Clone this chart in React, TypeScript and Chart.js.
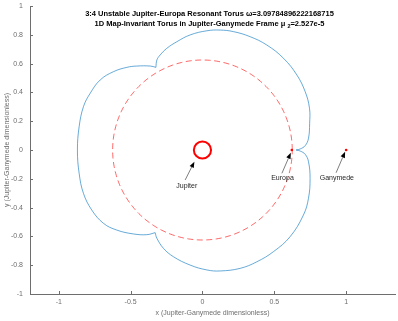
import React, { useEffect, useRef } from "react";
import { Chart, registerables } from "chart.js";

Chart.register(...registerables);

// ---- axes ----
const X_MIN = -1.2;
const X_MAX = 1.34;
const Y_MIN = -1;
const Y_MAX = 1;
const X_TICKS = [-1, -0.5, 0, 0.5, 1];
const Y_TICKS = [-1, -0.8, -0.6, -0.4, -0.2, 0, 0.2, 0.4, 0.6, 0.8, 1];

// ---- titles ----
const TITLE_LINE_1 = "3:4 Unstable Jupiter-Europa Resonant Torus \u03c9=3.09784896222168715";
const TITLE_LINE_2_MAIN = "1D Map-Invariant Torus in Jupiter-Ganymede Frame \u03bc";
const TITLE_LINE_2_SUB = "2";
const TITLE_LINE_2_TAIL = "=2.527e-5";
const X_LABEL = "x (Jupiter-Ganymede dimensionless)";
const Y_LABEL = "y (Jupiter-Ganymede dimensionless)";

// ---- torus curve (three lobes) ----
const TOP_LOBE_X = [0.652, 0.68, 0.715, 0.738, 0.746, 0.745, 0.715, 0.657, 0.564, 0.448, 0.332, 0.216, 0.123, 0.031, -0.086, -0.178, -0.248, -0.294, -0.317, -0.324];
const TOP_LOBE_Y = [0, 0.007, 0.03, 0.081, 0.185, 0.29, 0.405, 0.521, 0.637, 0.729, 0.787, 0.822, 0.833, 0.828, 0.799, 0.752, 0.706, 0.66, 0.625, 0.574];

const LEFT_LOBE_X = [-0.324, -0.363, -0.457, -0.526, -0.619, -0.712, -0.781, -0.828, -0.858, -0.87, -0.858, -0.828, -0.77, -0.689, -0.596, -0.48, -0.387, -0.329];
const LEFT_LOBE_Y = [0.574, 0.583, 0.583, 0.574, 0.544, 0.486, 0.394, 0.301, 0.162, 0, -0.162, -0.301, -0.417, -0.509, -0.556, -0.583, -0.588, -0.574];

const BOTTOM_LOBE_X = [-0.329, -0.317, -0.271, -0.202, -0.086, 0.031, 0.123, 0.262, 0.379, 0.494, 0.61, 0.703, 0.738, 0.749, 0.738, 0.715, 0.68, 0.652];
const BOTTOM_LOBE_Y = [-0.574, -0.613, -0.683, -0.741, -0.799, -0.833, -0.84, -0.822, -0.776, -0.706, -0.602, -0.451, -0.335, -0.197, -0.081, -0.03, -0.007, 0];

// ---- bodies ----
const EUROPA_ORBIT_RADIUS = 0.625;
const JUPITER_POS = [0, 0];
const EUROPA_POS = [0.622, 0];
const GANYMEDE_POS = [1, 0];

// ---- annotations ----
const ANNOT_LABELS = ["Jupiter", "Europa", "Ganymede"];
const ANNOT_TEXT_X = [-0.109, 0.557, 0.935];
const ANNOT_TEXT_Y = [-0.25, -0.197, -0.197];
const ANNOT_TAIL_X = [-0.12, 0.553, 0.93];
const ANNOT_TAIL_Y = [-0.208, -0.162, -0.158];
const ANNOT_HEAD_X = [-0.056, 0.615, 0.993];
const ANNOT_HEAD_Y = [-0.081, -0.019, -0.012];

const FONT = "'Liberation Sans', Arial, Helvetica, sans-serif";
const AXIS_COLOR = "#6e6e6e";
const TEXT_COLOR = "#262626";
const BLUE = "#0072BD";
const RED = "#FF0000";

function zip(xs: number[], ys: number[]) {
  return xs.map((x, i) => ({ x, y: ys[i] }));
}

function orbitPoints(r: number) {
  const pts: { x: number; y: number }[] = [];
  const n = 240;
  for (let i = 0; i <= n; i++) {
    const a = (i / n) * Math.PI * 2;
    pts.push({ x: r * Math.cos(a), y: r * Math.sin(a) });
  }
  return pts;
}

function fmt(v: number) {
  return String(Math.round(v * 10) / 10);
}

const decorPlugin = {
  id: "decor",
  afterDraw(chart: any) {
    const ctx = chart.ctx as CanvasRenderingContext2D;
    const area = chart.chartArea;
    const xs = chart.scales.x;
    const ys = chart.scales.y;
    ctx.save();

    // inward tick marks
    ctx.strokeStyle = AXIS_COLOR;
    ctx.lineWidth = 1;
    ctx.beginPath();
    X_TICKS.forEach((t) => {
      const px = Math.round(xs.getPixelForValue(t)) + 0.5;
      ctx.moveTo(px, area.bottom);
      ctx.lineTo(px, area.bottom - 3);
    });
    Y_TICKS.forEach((t) => {
      const py = Math.round(ys.getPixelForValue(t)) + 0.5;
      ctx.moveTo(area.left, py);
      ctx.lineTo(area.left + 3, py);
    });
    ctx.stroke();

    // tick labels
    ctx.fillStyle = AXIS_COLOR;
    ctx.font = `7px ${FONT}`;
    ctx.textBaseline = "middle";
    ctx.textAlign = "center";
    X_TICKS.forEach((t) => {
      ctx.fillText(fmt(t), xs.getPixelForValue(t), area.bottom + 8.5);
    });
    ctx.textAlign = "right";
    Y_TICKS.forEach((t) => {
      ctx.fillText(fmt(t), area.left - 7, ys.getPixelForValue(t));
    });

    // title
    const cx = (area.left + area.right) / 2 - 3;
    ctx.fillStyle = "#000";
    ctx.textBaseline = "middle";
    ctx.font = `bold 7.5px ${FONT}`;
    ctx.textAlign = "center";
    ctx.fillText(TITLE_LINE_1, cx, area.top + 8);
    const subFont = `bold 5.5px ${FONT}`;
    const wMain = ctx.measureText(TITLE_LINE_2_MAIN + " ").width;
    const wTail = ctx.measureText(TITLE_LINE_2_TAIL).width;
    ctx.font = subFont;
    const wSub = ctx.measureText(TITLE_LINE_2_SUB).width;
    const total = wMain + wSub + wTail;
    const x0 = cx - total / 2;
    const y2 = area.top + 18;
    ctx.textAlign = "left";
    ctx.font = `bold 7.5px ${FONT}`;
    ctx.fillText(TITLE_LINE_2_MAIN + " ", x0, y2);
    ctx.font = subFont;
    ctx.fillText(TITLE_LINE_2_SUB, x0 + wMain, y2 + 2.5);
    ctx.font = `bold 7.5px ${FONT}`;
    ctx.fillText(TITLE_LINE_2_TAIL, x0 + wMain + wSub, y2);

    // axis titles
    ctx.fillStyle = AXIS_COLOR;
    ctx.font = `7px ${FONT}`;
    ctx.textAlign = "center";
    ctx.fillText(X_LABEL, (area.left + area.right) / 2, area.bottom + 19);
    ctx.save();
    ctx.translate(7, (area.top + area.bottom) / 2);
    ctx.rotate(-Math.PI / 2);
    ctx.fillText(Y_LABEL, 0, 0);
    ctx.restore();

    // annotations
    ANNOT_LABELS.forEach((label, i) => {
      const tx = xs.getPixelForValue(ANNOT_TAIL_X[i]);
      const ty = ys.getPixelForValue(ANNOT_TAIL_Y[i]);
      const hx = xs.getPixelForValue(ANNOT_HEAD_X[i]);
      const hy = ys.getPixelForValue(ANNOT_HEAD_Y[i]);
      const ang = Math.atan2(hy - ty, hx - tx);
      const hl = 6;
      const hw = 2.3;
      const bx = hx - hl * Math.cos(ang);
      const by = hy - hl * Math.sin(ang);
      ctx.strokeStyle = TEXT_COLOR;
      ctx.lineWidth = 0.6;
      ctx.beginPath();
      ctx.moveTo(tx, ty);
      ctx.lineTo(bx, by);
      ctx.stroke();
      ctx.fillStyle = "#000";
      ctx.beginPath();
      ctx.moveTo(hx, hy);
      ctx.lineTo(bx + hw * Math.sin(ang), by - hw * Math.cos(ang));
      ctx.lineTo(bx - hw * Math.sin(ang), by + hw * Math.cos(ang));
      ctx.closePath();
      ctx.fill();
      ctx.fillStyle = TEXT_COLOR;
      ctx.font = `7px ${FONT}`;
      ctx.textAlign = "center";
      ctx.textBaseline = "middle";
      ctx.fillText(label, xs.getPixelForValue(ANNOT_TEXT_X[i]), ys.getPixelForValue(ANNOT_TEXT_Y[i]));
    });

    ctx.restore();
  },
};

export default function App() {
  const ref = useRef<HTMLCanvasElement | null>(null);

  useEffect(() => {
    if (!ref.current) return;
    const lineDs = (data: any[], color: string, extra: any = {}) => ({
      type: "line",
      data,
      borderColor: color,
      backgroundColor: color,
      borderWidth: 0.6,
      pointRadius: 0,
      showLine: true,
      fill: false,
      parsing: false,
      ...extra,
    });

    const chart = new Chart(ref.current, {
      type: "scatter",
      data: {
        datasets: [
          lineDs(zip(TOP_LOBE_X, TOP_LOBE_Y), BLUE, { tension: 0.4 }),
          lineDs(zip(LEFT_LOBE_X, LEFT_LOBE_Y), BLUE, { tension: 0.4 }),
          lineDs(zip(BOTTOM_LOBE_X, BOTTOM_LOBE_Y), BLUE, { tension: 0.4 }),
          lineDs(orbitPoints(EUROPA_ORBIT_RADIUS), RED, { borderDash: [6, 3.5], borderWidth: 0.6, tension: 0 }),
          {
            type: "scatter",
            data: [{ x: JUPITER_POS[0], y: JUPITER_POS[1] }],
            pointRadius: 8.6,
            pointBorderWidth: 2,
            pointBorderColor: RED,
            pointBackgroundColor: "rgba(0,0,0,0)",
          },
          {
            type: "scatter",
            data: [
              { x: EUROPA_POS[0], y: EUROPA_POS[1] },
              { x: GANYMEDE_POS[0], y: GANYMEDE_POS[1] },
            ],
            pointRadius: 1.3,
            pointBorderWidth: 0,
            pointBackgroundColor: RED,
          },
        ] as any,
      },
      options: {
        animation: false,
        responsive: false,
        maintainAspectRatio: false,
        layout: { autoPadding: false, padding: { top: 6, right: 3, left: 0, bottom: 0 } },
        plugins: {
          legend: { display: false },
          tooltip: { enabled: false },
          title: { display: false },
        },
        scales: {
          x: {
            type: "linear",
            min: X_MIN,
            max: X_MAX,
            afterBuildTicks: (s: any) => {
              s.ticks = X_TICKS.map((v) => ({ value: v }));
            },
            afterFit: (s: any) => {
              s.height = 27;
            },
            grid: { display: false, drawTicks: false },
            border: { display: true, color: AXIS_COLOR, width: 1 },
            ticks: { display: false },
          },
          y: {
            type: "linear",
            min: Y_MIN,
            max: Y_MAX,
            afterBuildTicks: (s: any) => {
              s.ticks = Y_TICKS.map((v) => ({ value: v }));
            },
            afterFit: (s: any) => {
              s.width = 30;
            },
            grid: { display: false, drawTicks: false },
            border: { display: true, color: AXIS_COLOR, width: 1 },
            ticks: { display: false },
          },
        },
      } as any,
      plugins: [decorPlugin],
    });
    return () => chart.destroy();
  }, []);

  return (
    <div style={{ position: "fixed", left: 0, top: 0, width: 398, height: 321, background: "#fff" }}>
      <canvas ref={ref} width={398} height={321} style={{ width: 398, height: 321, display: "block" }} />
    </div>
  );
}
